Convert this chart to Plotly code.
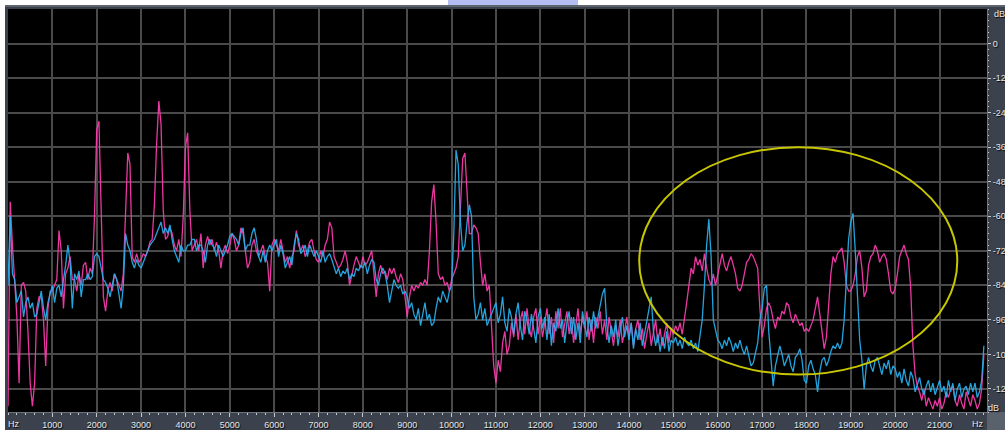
import plotly.graph_objects as go

# Spectrum estimate sampled every 50 Hz, two channels (dB); one row per 1 kHz
freqs_hz = list(range(0, 22001, 50))

magenta_db = [
    -126, -55, -70, -82, -95, -118, -84, -83, -86, -100, -118, -126, -118, -92, -88, -88, -96, -112, -92, -86,
    -86, -84, -82, -65, -72, -92, -80, -78, -74, -82, -82, -86, -80, -84, -77, -76, -82, -78, -80, -60,
    -30, -27, -55, -88, -93, -86, -83, -86, -80, -82, -84, -86, -80, -62, -38, -42, -74, -76, -73, -76,
    -75, -73, -74, -72, -69, -68, -56, -35, -20, -28, -58, -68, -67, -64, -66, -70, -72, -68, -74, -60,
    -36, -31, -58, -72, -70, -68, -72, -66, -78, -70, -67, -70, -68, -72, -69, -72, -78, -72, -70, -73,
    -70, -66, -68, -72, -70, -64, -66, -72, -78, -76, -70, -68, -72, -74, -72, -70, -74, -76, -86, -70,
    -68, -70, -72, -68, -72, -76, -74, -78, -74, -72, -65, -70, -72, -70, -74, -72, -69, -68, -72, -75,
    -76, -72, -74, -70, -68, -62, -64, -74, -76, -78, -77, -75, -72, -76, -84, -80, -77, -74, -76, -78,
    -74, -77, -76, -74, -72, -80, -88, -80, -77, -80, -79, -82, -78, -80, -78, -81, -83, -80, -82, -88,
    -95, -88, -84, -86, -84, -85, -83, -84, -82, -84, -72, -55, -49, -62, -80, -82, -81, -84, -83, -86,
    -82, -80, -78, -74, -56, -40, -38, -52, -66, -66, -63, -64, -66, -76, -84, -80, -86, -84, -100, -112,
    -118, -110, -114, -104, -100, -108, -105, -97, -102, -94, -103, -96, -93, -101, -92, -99, -102, -95, -92, -101,
    -95, -102, -97, -92, -101, -95, -104, -93, -99, -92, -102, -97, -93, -101, -95, -104, -97, -92, -101, -95,
    -99, -93, -103, -96, -104, -95, -99, -93, -101, -96, -103, -95, -100, -105, -98, -102, -96, -104, -100, -95,
    -102, -97, -105, -99, -96, -103, -99, -106, -101, -97, -105, -101, -96, -104, -99, -105, -101, -97, -104, -99,
    -101, -98, -100, -97, -101, -96, -90, -84, -78, -80, -74, -77, -75, -79, -73, -78, -82, -84, -80, -84,
    -80, -76, -73, -77, -79, -76, -74, -77, -80, -85, -86, -84, -80, -76, -75, -73, -74, -76, -78, -92,
    -102, -98, -92, -90, -92, -96, -99, -95, -96, -93, -94, -90, -91, -95, -97, -94, -96, -98, -97, -100,
    -99, -100, -98, -96, -92, -88, -94, -100, -106, -102, -90, -80, -74, -76, -73, -72, -71, -76, -84, -86,
    -86, -84, -80, -74, -72, -78, -88, -86, -77, -74, -73, -70, -72, -76, -74, -73, -75, -80, -86, -87,
    -85, -80, -74, -72, -70, -73, -75, -85, -105, -115, -119, -121, -124, -120, -126, -123, -125, -127, -124, -126,
    -123, -127, -125, -121, -123, -120, -119, -124, -126, -122, -125, -127, -121, -124, -126, -122, -124, -127, -125, -120,
    -108,
]

cyan_db = [
    -84, -60, -80, -82, -90, -88, -86, -95, -90, -88, -92, -90, -95, -94, -90, -86, -92, -96, -90, -87,
    -84, -90, -85, -84, -88, -82, -77, -70, -76, -92, -80, -82, -79, -88, -82, -82, -80, -82, -81, -74,
    -73, -74, -78, -82, -83, -85, -88, -84, -80, -82, -88, -92, -84, -66, -70, -72, -76, -78, -75, -77,
    -78, -76, -74, -72, -70, -69, -68, -66, -64, -62, -66, -64, -66, -63, -68, -72, -74, -76, -70, -72,
    -72, -70, -70, -68, -68, -72, -70, -70, -72, -76, -70, -68, -70, -71, -74, -70, -72, -74, -72, -70,
    -67, -66, -67, -68, -70, -66, -64, -72, -70, -70, -66, -64, -68, -74, -76, -72, -76, -72, -70, -72,
    -70, -68, -74, -70, -73, -78, -76, -74, -77, -70, -66, -68, -73, -72, -70, -74, -70, -72, -74, -72,
    -74, -76, -72, -76, -74, -73, -75, -78, -80, -78, -81, -79, -80, -78, -82, -80, -81, -78, -79, -77,
    -78, -76, -80, -77, -75, -76, -82, -84, -80, -78, -80, -84, -90, -86, -82, -84, -85, -84, -87, -86,
    -88, -92, -90, -94, -96, -92, -98, -94, -90, -96, -94, -98, -97, -92, -88, -90, -86, -88, -90, -86,
    -84, -66, -37, -42, -62, -72, -70, -62, -56, -60, -88, -96, -94, -90, -96, -92, -98, -96, -94, -92,
    -90, -97, -94, -88, -97, -100, -92, -95, -101, -94, -90, -98, -103, -93, -96, -101, -94, -99, -104, -95,
    -92, -99, -95, -103, -94, -105, -97, -100, -92, -99, -96, -104, -97, -93, -101, -95, -103, -97, -104, -93,
    -97, -102, -95, -100, -93, -99, -95, -91, -87, -85, -98, -104, -98, -102, -96, -105, -100, -95, -102, -98,
    -103, -97, -106, -99, -103, -97, -105, -101, -96, -92, -88, -100, -105, -101, -107, -102, -106, -100, -107, -103,
    -104, -102, -105, -103, -106, -102, -104, -105, -103, -106, -104, -107, -102, -96, -84, -70, -61, -74, -96, -100,
    -103, -104, -106, -103, -105, -102, -104, -107, -104, -106, -103, -106, -108, -105, -109, -112, -111, -107, -104, -96,
    -92, -85, -84, -100, -110, -119, -112, -108, -105, -108, -112, -110, -108, -112, -114, -109, -108, -106, -110, -117,
    -118, -112, -110, -113, -115, -121, -114, -110, -109, -112, -110, -107, -105, -106, -104, -106, -104, -96, -82, -68,
    -62, -59, -72, -90, -103, -110, -120, -112, -109, -112, -114, -110, -109, -112, -115, -111, -113, -110, -115, -112,
    -113, -116, -114, -118, -113, -117, -119, -114, -116, -121, -118, -116, -120, -122, -119, -117, -121, -118, -122, -119,
    -117, -121, -119, -123, -117, -121, -118, -124, -120, -118, -123, -120, -119, -122, -118, -121, -118, -123, -121, -117,
    -105,
]

x_tick_hz = list(range(1000, 21001, 1000))
x_tick_text = [str(v) for v in x_tick_hz]
y_tick_db = list(range(0, -121, -12))
y_tick_text = [str(v) for v in y_tick_db]

# Highlighted region (Hz, dB)
ring_hz = (14230, 21400)
ring_db = (-115, -36)

W, H = 1005, 430
L, R, T, B = 8, 18, 9, 18
PW, PH = W - L - R, H - T - B


def px(xpix):
    return (xpix - L) / PW


def py(ypix):
    return (H - B - ypix) / PH


label_font = dict(family="Liberation Sans, Arial, sans-serif", size=9,
                  color="#e8e8e8", shadow="1px 1px 1px #000000")

fig = go.Figure()
fig.add_trace(go.Scatter(x=freqs_hz, y=magenta_db, mode="lines",
                         line=dict(color="#ff3cb0", width=1.3), opacity=0.92,
                         hoverinfo="skip", showlegend=False))
fig.add_trace(go.Scatter(x=freqs_hz, y=cyan_db, mode="lines",
                         line=dict(color="#27b2f0", width=1.3), opacity=0.92,
                         hoverinfo="skip", showlegend=False))

shapes = [
    # window chrome around the analyser panel
    dict(type="rect", xref="paper", yref="paper", x0=px(0), x1=px(W), y0=py(5), y1=py(0),
         fillcolor="#ffffff", line_width=0, layer="below"),
    dict(type="rect", xref="paper", yref="paper", x0=px(0), x1=px(5), y0=py(H), y1=py(0),
         fillcolor="#ffffff", line_width=0, layer="below"),
    dict(type="rect", xref="paper", yref="paper", x0=px(5), x1=px(W), y0=py(7), y1=py(5),
         fillcolor="#5d646e", line_width=0, layer="below"),
    dict(type="rect", xref="paper", yref="paper", x0=px(448), x1=px(578), y0=py(5), y1=py(0),
         fillcolor="#b4bef2", line_width=0, layer="below"),
    dict(type="rect", xref="paper", yref="paper", x0=px(987), x1=px(W), y0=py(H), y1=py(412),
         fillcolor="#59616d", line_width=0, layer="below"),
    # highlighted ring
    dict(type="circle", xref="x", yref="y", x0=ring_hz[0], x1=ring_hz[1],
         y0=ring_db[0], y1=ring_db[1], line=dict(color="#c8c600", width=2)),
]

annotations = [
    dict(text="Hz", xref="paper", yref="paper", x=px(13.5), y=py(424.5),
         xanchor="center", yanchor="middle", showarrow=False, font=label_font),
    dict(text="Hz", xref="paper", yref="paper", x=px(978), y=py(424.5),
         xanchor="center", yanchor="middle", showarrow=False, font=label_font),
    dict(text="dB", xref="paper", yref="paper", x=px(992), y=py(13.5),
         xanchor="left", yanchor="middle", showarrow=False, font=label_font),
    dict(text="dB", xref="paper", yref="paper", x=px(986), y=py(408),
         xanchor="left", yanchor="middle", showarrow=False, font=label_font),
]

fig.update_layout(
    width=W, height=H,
    margin=dict(l=L, r=R, t=T, b=B, pad=0, autoexpand=False),
    paper_bgcolor="#3b424d",
    plot_bgcolor="#000000",
    shapes=shapes,
    annotations=annotations,
    xaxis=dict(range=[0, 22070], tickmode="array", tickvals=x_tick_hz, ticktext=x_tick_text,
               automargin=False,
               showgrid=True, gridcolor="#4a4a4a", gridwidth=2,
               ticks="outside", ticklen=4, tickcolor="#c8c8c8", tickwidth=1,
               minor=dict(dtick=200, tick0=0, ticks="outside", ticklen=2,
                          tickcolor="#c8c8c8", showgrid=False),
               showline=True, linecolor="#6c737e", linewidth=1,
               zeroline=False, tickfont=label_font, fixedrange=True),
    yaxis=dict(range=[-128, 12], side="right", tickmode="array", tickvals=y_tick_db,
               ticktext=y_tick_text, automargin=False,
               showgrid=True, gridcolor="#4a4a4a", gridwidth=2,
               ticks="outside", ticklen=3, tickcolor="#c8c8c8", tickwidth=1,
               minor=dict(dtick=2, tick0=0, ticks="outside", ticklen=1,
                          tickcolor="#c8c8c8", showgrid=False),
               showline=True, linecolor="#6c737e", linewidth=1,
               zeroline=False, tickfont=label_font, fixedrange=True),
)

fig.write_html("out.html", config=dict(displayModeBar=False))
